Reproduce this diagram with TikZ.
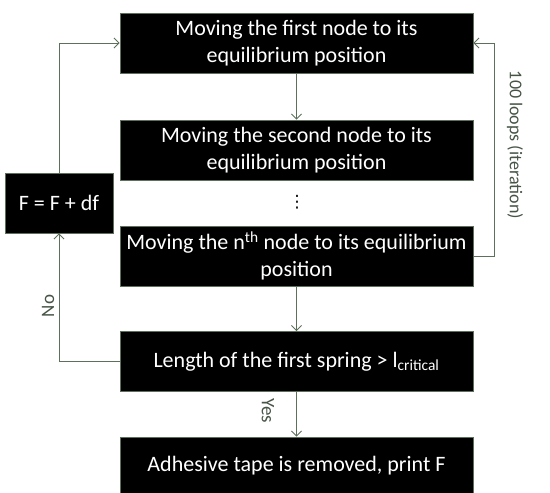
\documentclass[tikz,border=0pt]{standalone}
\usepackage{fontspec}
\setmainfont{Carlito}
\newfontfamily\dejavu{DejaVu Sans}
\usetikzlibrary{arrows.meta}
\definecolor{linegreen}{RGB}{92,112,92}
\definecolor{labelgreen}{RGB}{70,84,70}
\begin{document}
\begin{tikzpicture}[x=1pt,y=1pt,
  stepbox/.style={draw=linegreen, fill=black, text=white, minimum width=353pt, minimum height=60pt,
    align=center, inner sep=0pt, line width=0.8pt, font=\fontsize{22}{27}\selectfont},
  conn/.style={draw=linegreen, line width=0.9pt, -{Straight Barb[length=5pt,width=10pt]}},
  lbl/.style={text=labelgreen, font=\fontsize{19}{22}\selectfont, inner sep=0pt}]
\useasboundingbox (0,0) rectangle (550,-493);
\node[stepbox] (b1) at (296.5,-43) {Moving the first node to its\\equilibrium position};
\node[stepbox] (b2) at (296.5,-150) {Moving the second node to its\\equilibrium position};
\node[inner sep=0pt, font=\dejavu\fontsize{17}{17}\selectfont] (dots) at (297,-202) {⋮};
\node[stepbox] (b3) at (296.5,-256) {Moving the n\textsuperscript{th} node to its equilibrium\\position};
\node[stepbox] (b4) at (296.5,-361.5) {Length of the first spring > l\textsubscript{critical}};
\node[stepbox, minimum height=58pt] (b5) at (296.5,-466) {Adhesive tape is removed, print F};
\node[stepbox, minimum width=108pt] (f) at (59,-203) {F = F + df};
\draw[conn] (b1.south) -- (b2.north);
\draw[conn] (b3.south) -- (b4.north);
\draw[conn] (b4.south) -- (b5.north);
\node[lbl, rotate=-90] (yes) at (268,-411) {Yes};
\draw[conn] (f.north) |- (b1.west);
\draw[conn] (b4.west) -| (f.south);
\node[lbl, rotate=90] (no) at (48,-306) {No};
\coordinate (r) at (494,-256);
\draw[conn] (b3.east) -- (r) |- (b1.east);
\node[lbl, font=\fontsize{18}{22}\selectfont, rotate=-90] (loops) at (515,-145) {100 loops (iteration)};
\end{tikzpicture}
\end{document}
